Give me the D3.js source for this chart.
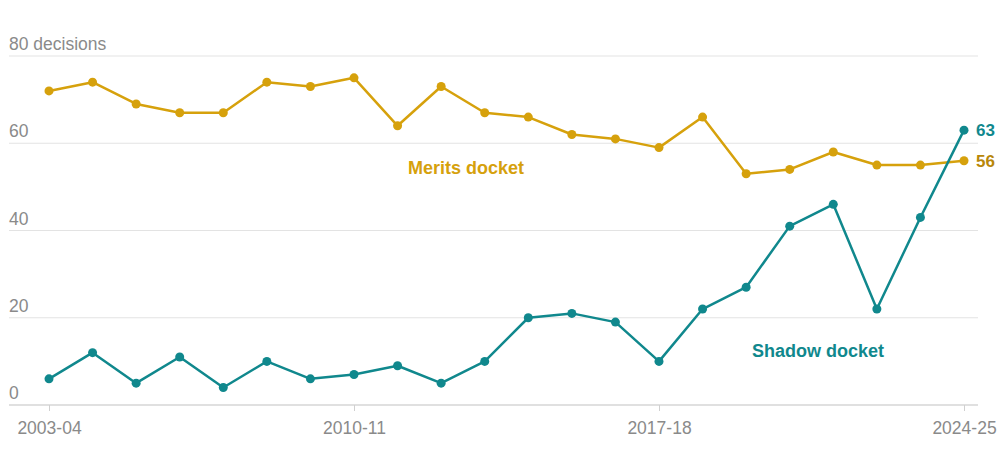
<!DOCTYPE html>
<html>
<head>
<meta charset="utf-8">
<script src="https://cdn.jsdelivr.net/npm/d3@7"></script>
<style>
  body { margin: 0; background: #fff; }
  text { font-family: "Liberation Sans", Arial, sans-serif; }
</style>
</head>
<body>
<svg id="chart" width="1000" height="460"></svg>
<script>
let seasons = ['2003-04', '2004-05', '2005-06', '2006-07', '2007-08', '2008-09', '2009-10', '2010-11',
    '2011-12', '2012-13', '2013-14', '2014-15', '2015-16', '2016-17', '2017-18', '2018-19',
    '2019-20', '2020-21', '2021-22', '2022-23', '2023-24', '2024-25']
let merits = [72, 74, 69, 67, 67, 74, 73, 75, 64, 73, 67, 66, 62, 61, 59, 66, 53, 54, 58, 55, 55, 56]
let shadow = [6, 12, 5, 11, 4, 10, 6, 7, 9, 5, 10, 20, 21, 19, 10, 22, 27, 41, 46, 22, 43, 63]
let xTicks = ['2003-04', '2010-11', '2017-18', '2024-25']
let yTicks = [0, 20, 40, 60, 80]

function main() {
    let svg = d3.select('#chart'),
        gridLeft = 9, gridRight = 978

    let xScale = d3.scalePoint().domain(seasons).range([49, 964]),
        yScale = d3.scaleLinear().domain([0, 80]).range([405, 56])

    // gridlines + y labels
    let grid = svg.append('g')
    grid.selectAll('line')
        .data(yTicks)
        .enter()
        .append('line')
        .attr('x1', gridLeft)
        .attr('x2', gridRight)
        .attr('y1', d => yScale(d))
        .attr('y2', d => yScale(d))
        .attr('stroke', d => d === 0 ? '#d6d6d6' : '#e3e3e3')
        .attr('stroke-width', d => d === 0 ? 1.5 : 1)
    grid.selectAll('text')
        .data(yTicks)
        .enter()
        .append('text')
        .attr('x', gridLeft)
        .attr('y', d => yScale(d) - 6)
        .attr('fill', '#8a8a8a')
        .attr('font-size', 17.5)
        .text(d => d === 80 ? '80 decisions' : d)

    // x axis
    let xAxis = svg.append('g')
        .attr('transform', 'translate(0,' + yScale(0) + ')')
        .call(d3.axisBottom(xScale).tickValues(xTicks).tickSize(6).tickPadding(11))
    xAxis.select('.domain').remove()
    xAxis.selectAll('line').attr('stroke', '#d0d0d0')
    xAxis.selectAll('text')
        .attr('fill', '#8a8a8a')
        .attr('font-size', 17.5)
        .attr('font-family', '"Liberation Sans", Arial, sans-serif')

    let line = d3.line()
        .x((d, i) => xScale(seasons[i]))
        .y(d => yScale(d))

    let series = [
        {name: 'Merits docket', values: merits, color: '#d6a10c', endColor: '#b8870a', lx: 466, ly: 174},
        {name: 'Shadow docket', values: shadow, color: '#10888d', endColor: '#10888d', lx: 818, ly: 357}
    ]

    series.forEach(s => {
        svg.append('path')
            .datum(s.values)
            .attr('d', line)
            .attr('fill', 'none')
            .attr('stroke', s.color)
            .attr('stroke-width', 2.5)
            .attr('stroke-linejoin', 'round')

        svg.append('g')
            .selectAll('circle')
            .data(s.values)
            .enter()
            .append('circle')
            .attr('cx', (d, i) => xScale(seasons[i]))
            .attr('cy', d => yScale(d))
            .attr('r', 4.5)
            .attr('fill', s.color)

        let last = s.values[s.values.length - 1]
        svg.append('text')
            .attr('x', xScale(seasons[seasons.length - 1]) + 12)
            .attr('y', yScale(last) + 6)
            .attr('fill', s.endColor)
            .attr('font-size', 17)
            .attr('font-weight', 'bold')
            .text(last)

        svg.append('text')
            .attr('x', s.lx)
            .attr('y', s.ly)
            .attr('text-anchor', 'middle')
            .attr('fill', s.color)
            .attr('font-size', 18)
            .attr('font-weight', 'bold')
            .text(s.name)
    })
}

main()
</script>
</body>
</html>
